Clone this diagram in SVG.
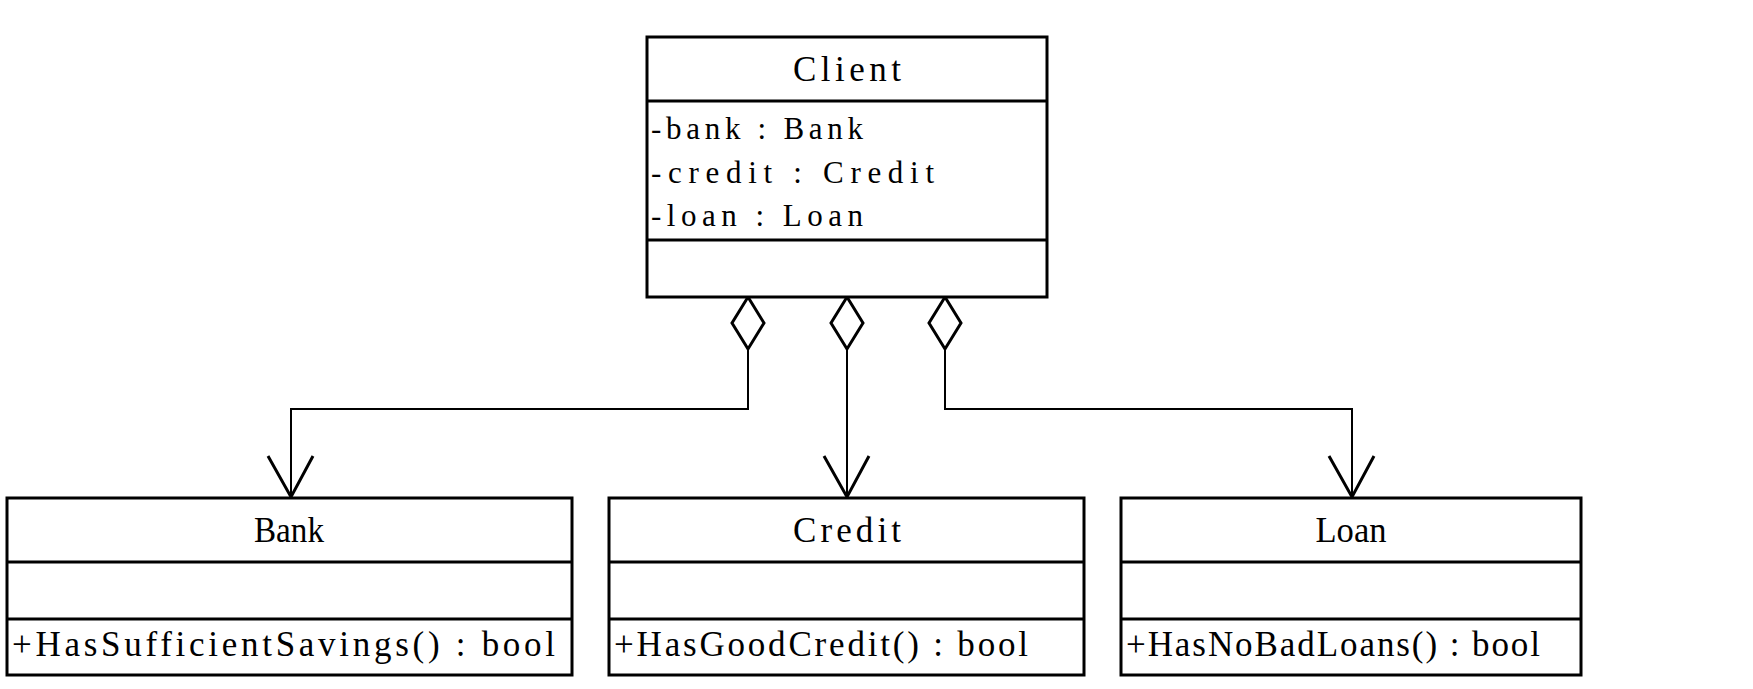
<svg xmlns="http://www.w3.org/2000/svg" width="1753" height="689" viewBox="0 0 1753 689">
<style>
.box{fill:#fff;stroke:#000;stroke-width:3}
.sep{stroke:#000;stroke-width:3}
.conn{fill:none;stroke:#000;stroke-width:2}
.head{fill:none;stroke:#000;stroke-width:3}
.dia{fill:#fff;stroke:#000;stroke-width:3}
.t{font-family:"Liberation Serif","Times New Roman",serif;fill:#000}
.title{font-size:35px;text-anchor:middle}
.attr{font-size:31px}
.meth{font-size:35px}
</style>
<rect width="1753" height="689" fill="#fff"/>
<g id="connectors">
<path class="conn" d="M748 349 V409 H291 V497"/>
<path class="conn" d="M847 349 V497"/>
<path class="conn" d="M945 349 V409 H1352 V497"/>
<path class="head" d="M268 456 L291 497 L313 456"/>
<path class="head" d="M824 456 L847 497 L869 456"/>
<path class="head" d="M1329 456 L1352 497 L1374 456"/>
<path class="dia" d="M748 297 L764 323 L748 349 L732 323 Z"/>
<path class="dia" d="M847 297 L863 323 L847 349 L831 323 Z"/>
<path class="dia" d="M945 297 L961 323 L945 349 L929 323 Z"/>
</g>
<g id="client">
<rect class="box" x="647" y="37" width="400" height="260"/>
<line class="sep" x1="647" y1="101" x2="1047" y2="101"/>
<line class="sep" x1="647" y1="240" x2="1047" y2="240"/>
<text class="t title" x="847" y="81" textLength="108" lengthAdjust="spacing">Client</text>
<text class="t attr" x="651" y="139" textLength="212" lengthAdjust="spacing">-bank : Bank</text>
<text class="t attr" x="651" y="183" textLength="283" lengthAdjust="spacing">-credit : Credit</text>
<text class="t attr" x="651" y="226" textLength="212" lengthAdjust="spacing">-loan : Loan</text>
</g>
<g id="bank">
<rect class="box" x="7" y="498" width="565" height="177"/>
<line class="sep" x1="7" y1="562" x2="572" y2="562"/>
<line class="sep" x1="7" y1="619" x2="572" y2="619"/>
<text class="t title" x="289" y="542" textLength="70" lengthAdjust="spacingAndGlyphs">Bank</text>
<text class="t meth" x="12" y="656" textLength="543" lengthAdjust="spacing">+HasSufficientSavings() : bool</text>
</g>
<g id="credit">
<rect class="box" x="609" y="498" width="475" height="177"/>
<line class="sep" x1="609" y1="562" x2="1084" y2="562"/>
<line class="sep" x1="609" y1="619" x2="1084" y2="619"/>
<text class="t title" x="847" y="542" textLength="108" lengthAdjust="spacing">Credit</text>
<text class="t meth" x="614" y="656" textLength="414" lengthAdjust="spacing">+HasGoodCredit() : bool</text>
</g>
<g id="loan">
<rect class="box" x="1121" y="498" width="460" height="177"/>
<line class="sep" x1="1121" y1="562" x2="1581" y2="562"/>
<line class="sep" x1="1121" y1="619" x2="1581" y2="619"/>
<text class="t title" x="1351" y="542" textLength="71" lengthAdjust="spacingAndGlyphs">Loan</text>
<text class="t meth" x="1126" y="656" textLength="414" lengthAdjust="spacing">+HasNoBadLoans() : bool</text>
</g>
</svg>
